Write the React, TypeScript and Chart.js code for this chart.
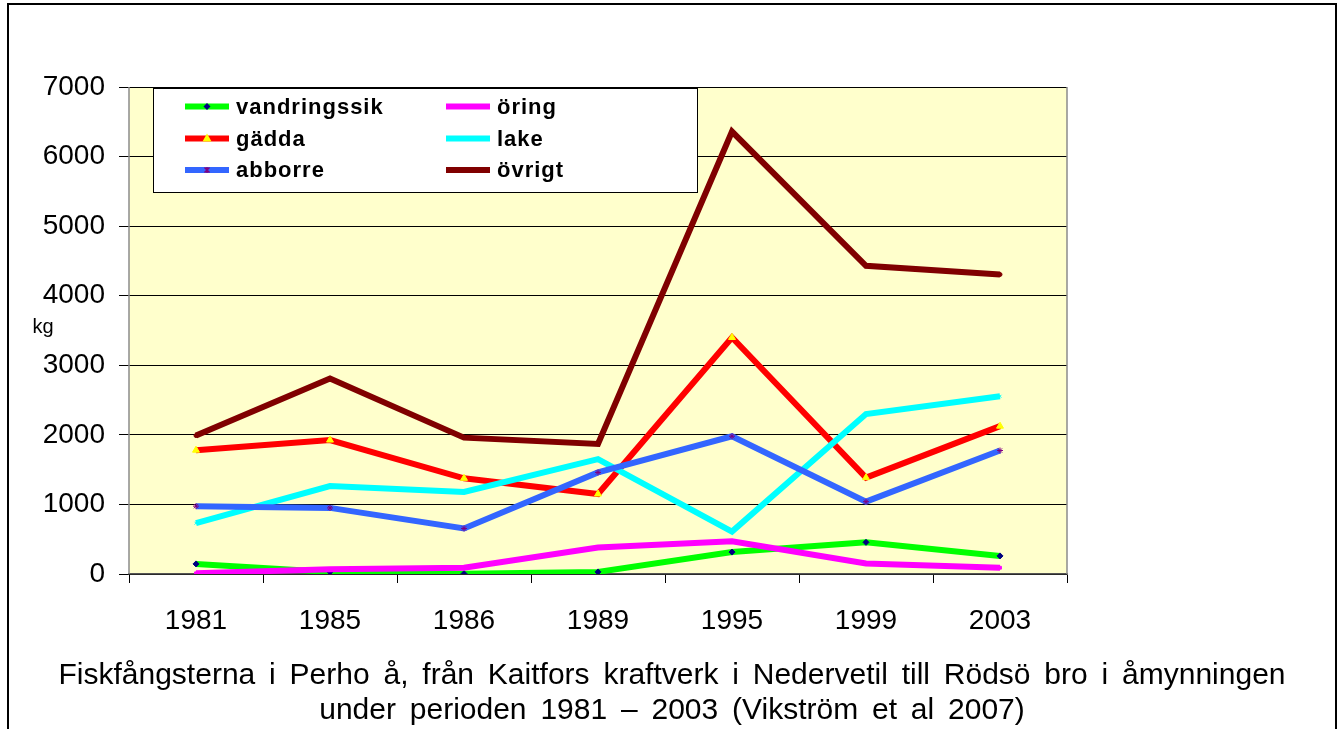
import React, { useEffect, useRef } from "react";
import { Chart, registerables } from "chart.js";

Chart.register(...registerables);

const years = ["1981", "1985", "1986", "1989", "1995", "1999", "2003"];
const vandringssik = [145, 30, 5, 30, 315, 455, 260];
const oring = [10, 70, 90, 380, 470, 150, 90];
const gadda = [1780, 1925, 1375, 1150, 3400, 1385, 2125];
const lake = [730, 1265, 1180, 1650, 610, 2300, 2555];
const abborre = [975, 950, 655, 1460, 1980, 1040, 1775];
const ovrigt = [1990, 2810, 1960, 1870, 6360, 4430, 4305];
const yTicks = [0, 1000, 2000, 3000, 4000, 5000, 6000, 7000];
const captionLines = [
  "Fiskfångsterna i Perho å, från Kaitfors kraftverk i Nedervetil till Rödsö bro i åmynningen",
  "under perioden 1981 – 2003 (Vikström et al 2007)",
];
const yUnit = "kg";

const FONT = "Arial, 'Liberation Sans', sans-serif";

const plotBg = {
  id: "plotBg",
  beforeDraw(chart: any) {
    const { ctx, chartArea: a } = chart;
    ctx.save();
    ctx.fillStyle = "#FFFFCC";
    ctx.fillRect(a.left, a.top, a.right - a.left, a.bottom - a.top);
    ctx.restore();
  },
  afterDraw(chart: any) {
    const { ctx, chartArea: a } = chart;
    ctx.save();
    ctx.strokeStyle = "#8c8c8c";
    ctx.lineWidth = 1.5;
    ctx.beginPath();
    ctx.moveTo(a.left, a.top);
    ctx.lineTo(a.left, a.bottom);
    ctx.moveTo(a.right, a.top);
    ctx.lineTo(a.right, a.bottom);
    ctx.stroke();
    // unit label
    ctx.fillStyle = "#000";
    ctx.font = `20px ${FONT}`;
    ctx.textAlign = "center";
    ctx.textBaseline = "middle";
    ctx.fillText(yUnit, 43, 327);
    // caption
    ctx.font = `30px ${FONT}`;
    (ctx as any).wordSpacing = "5.5px";
    captionLines.forEach((line, i) => {
      ctx.fillText(line, 672, 676 + i * 35);
    });
    (ctx as any).wordSpacing = "0px";
    ctx.restore();
  },
};

const boxLegend = {
  id: "boxLegend",
  afterDraw(chart: any) {
    const { ctx, chartArea: a } = chart;
    const bx = a.left + 24;
    const by = a.top + 1;
    const bw = 544;
    const bh = 104;
    ctx.save();
    ctx.fillStyle = "#fff";
    ctx.fillRect(bx, by, bw, bh);
    ctx.strokeStyle = "#000";
    ctx.lineWidth = 1;
    ctx.strokeRect(bx + 0.5, by + 0.5, bw, bh);
    const rowsY = [18.5, 50.5, 82];
    const colX = [32, 293];
    chart.data.datasets.forEach((ds: any, i: number) => {
      const col = i % 2;
      const row = Math.floor(i / 2);
      const x0 = bx + colX[col];
      const y = by + rowsY[row];
      ctx.strokeStyle = ds.borderColor;
      ctx.lineWidth = 6;
      ctx.beginPath();
      ctx.moveTo(x0, y);
      ctx.lineTo(x0 + 44, y);
      ctx.stroke();
      if (ds.legendMarker) {
        const cx = x0 + 22;
        ctx.fillStyle = ds.pointBackgroundColor;
        ctx.strokeStyle = ds.pointBorderColor;
        ctx.lineWidth = 1;
        if (ds.pointStyle === "rectRot") {
          ctx.beginPath();
          ctx.moveTo(cx, y - 3.5);
          ctx.lineTo(cx + 3.5, y);
          ctx.lineTo(cx, y + 3.5);
          ctx.lineTo(cx - 3.5, y);
          ctx.closePath();
          ctx.fill();
        } else if (ds.pointStyle === "triangle") {
          ctx.beginPath();
          ctx.moveTo(cx, y - 5);
          ctx.lineTo(cx + 4.5, y + 3);
          ctx.lineTo(cx - 4.5, y + 3);
          ctx.closePath();
          ctx.fill();
        } else if (ds.pointStyle === "star") {
          ctx.lineWidth = 1.5;
          ctx.beginPath();
          ctx.moveTo(cx - 2.5, y - 2.5);
          ctx.lineTo(cx + 2.5, y + 2.5);
          ctx.moveTo(cx + 2.5, y - 2.5);
          ctx.lineTo(cx - 2.5, y + 2.5);
          ctx.moveTo(cx, y - 3);
          ctx.lineTo(cx, y + 3);
          ctx.stroke();
        }
      }
      ctx.fillStyle = "#000";
      ctx.font = `bold 22px ${FONT}`;
      (ctx as any).letterSpacing = "1px";
      ctx.textAlign = "left";
      ctx.textBaseline = "middle";
      ctx.fillText(ds.label, x0 + 51, y + 1);
      (ctx as any).letterSpacing = "0px";
    });
    ctx.restore();
  },
};

export default function App() {
  const ref = useRef<HTMLCanvasElement | null>(null);

  useEffect(() => {
    document.body.style.margin = "0";
    const canvas = ref.current!;
    const mk = (
      label: string,
      data: number[],
      color: string,
      pointStyle: string,
      pbg: string,
      radius: number,
      order: number,
      legendMarker: boolean
    ) => ({
      label,
      data,
      borderColor: color,
      backgroundColor: color,
      borderWidth: 6,
      tension: 0,
      pointStyle,
      pointRadius: radius,
      pointBackgroundColor: pbg,
      pointBorderColor: pbg,
      pointBorderWidth: 1,
      order,
      legendMarker,
      fill: false,
    });
    const chart = new Chart(canvas, {
      type: "line",
      data: {
        labels: years,
        datasets: [
          mk("vandringssik", vandringssik, "#00FF00", "rectRot", "#000080", 3, 6, true),
          mk("öring", oring, "#FF00FF", "rect", "#FF00FF", 2, 5, false),
          mk("gädda", gadda, "#FF0000", "triangle", "#FFFF00", 4, 4, true),
          mk("lake", lake, "#00FFFF", "crossRot", "#00FFFF", 2, 3, false),
          mk("abborre", abborre, "#3366FF", "star", "#800080", 3, 2, true),
          mk("övrigt", ovrigt, "#800000", "circle", "#800000", 2, 1, false),
        ] as any,
      },
      options: {
        animation: false,
        responsive: false,
        devicePixelRatio: 1,
        layout: { padding: { left: 0, right: 271, top: 87, bottom: 95 } },
        plugins: {
          legend: { display: false },
          tooltip: { enabled: false },
          title: { display: false },
        },
        scales: {
          x: {
            offset: true,
            grid: {
              offset: true,
              drawOnChartArea: false,
              drawTicks: true,
              tickLength: 9,
              color: "#000",
              tickColor: "#000",
            },
            border: { display: true, color: "#555", width: 1.5 },
            ticks: {
              color: "#000",
              font: { family: FONT, size: 28 },
              padding: 21,
              maxRotation: 0,
              autoSkip: false,
            },
            afterFit(scale: any) {
              scale.height = 60;
            },
          },
          y: {
            min: 0,
            max: 7000,
            afterBuildTicks(scale: any) {
              scale.ticks = yTicks.map((v) => ({ value: v }));
            },
            grid: {
              color: "#000",
              tickColor: "#000",
              lineWidth: 1,
              tickLength: 10,
              drawTicks: true,
            },
            border: { display: false },
            ticks: {
              color: "#000",
              font: { family: FONT, size: 28 },
              padding: 14,
              callback: (v: any) => String(v),
            },
            afterFit(scale: any) {
              scale.width = 129;
            },
          },
        },
      },
      plugins: [plotBg, boxLegend],
    } as any);
    return () => chart.destroy();
  }, []);

  return (
    <div
      style={{
        position: "fixed",
        left: 0,
        top: 0,
        width: 1338,
        height: 729,
        overflow: "hidden",
        background: "#fff",
      }}
    >
      <canvas
        ref={ref}
        width={1338}
        height={729}
        style={{ position: "absolute", left: 0, top: 0, width: 1338, height: 729 }}
      />
      <div
        style={{
          position: "absolute",
          left: 7,
          top: 3,
          width: 1326,
          height: 800,
          border: "2px solid #000",
          pointerEvents: "none",
        }}
      />
    </div>
  );
}
